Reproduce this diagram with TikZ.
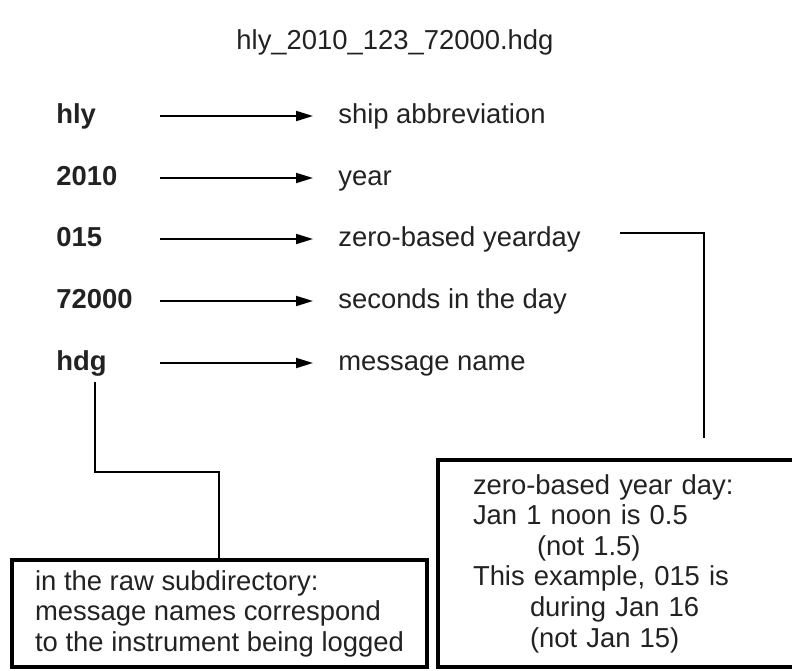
\documentclass[tikz,border=0pt]{standalone}
\usepackage{fontspec}
\setmainfont{Liberation Sans}
\usepackage{tikz}
\usetikzlibrary{arrows.meta, positioning}
\definecolor{inkgray}{RGB}{34,34,34}

\begin{document}
\begin{tikzpicture}[
    field/.style={anchor=base west, inner xsep=0pt, font=\fontsize{15.6}{17.6}\selectfont\bfseries, text=inkgray},
    meaning/.style={anchor=base west, inner xsep=0pt, font=\fontsize{15.6}{17.6}\selectfont, text=inkgray},
    note/.style={draw, line width=2.6pt, inner ysep=0pt, align=left, font=\fontsize{15.6}{17.4}\selectfont, text=inkgray},
    arr/.style={-{Triangle[length=3.4mm, width=2mm]}, line width=1.1pt, shorten >=0.5cm},
    wire/.style={line width=1.1pt}
]
\useasboundingbox (0,0) rectangle (15.84,-13.42);
\clip (0,0) rectangle (15.84,-13.42);

\node[font=\fontsize{15.6}{17.6}\selectfont, text=inkgray] (title) at (7.9,-0.84) {hly\_2010\_123\_72000.hdg};

% name parts
\node[field] (hly) at (1.12,-2.46) {hly};
\node[field] (year) at (1.12,-3.70) {2010};
\node[field] (yday) at (1.12,-4.92) {015};
\node[field] (secs) at (1.12,-6.16) {72000};
\node[field] (msg) at (1.12,-7.40) {hdg};

% what they mean
\node[meaning] (dhly) at (6.76,-2.46) {ship abbreviation};
\node[meaning] (dyear) at (6.76,-3.70) {year};
\node[meaning] (dyday) at (6.76,-4.92) {zero-based yearday};
\node[meaning] (dsecs) at (6.76,-6.16) {seconds in the day};
\node[meaning] (dmsg) at (6.76,-7.40) {message name};

\coordinate (ahly) at (3.2,-2.32);
\coordinate (ayear) at (3.2,-3.56);
\coordinate (ayday) at (3.2,-4.78);
\coordinate (asecs) at (3.2,-6.02);
\coordinate (amsg) at (3.2,-7.26);

\draw[arr] (ahly) -- (ahly -| dhly.west);
\draw[arr] (ayear) -- (ayear -| dyear.west);
\draw[arr] (ayday) -- (ayday -| dyday.west);
\draw[arr] (asecs) -- (asecs -| dsecs.west);
\draw[arr] (amsg) -- (amsg -| dmsg.west);

% notes
\node[note, minimum width=8.3cm, minimum height=2.14cm] (rawnote) at (4.39,-12.27)
    {in the raw subdirectory:\\message names correspond\\to the instrument being logged};
\node[note, text width=6.04cm, inner xsep=0.7cm, minimum height=4.14cm] (ydaynote) at (12.48,-11.27)
    {zero-based year day:\\Jan 1 noon is 0.5\\\hspace*{1.28cm}(not 1.5)\\This example, 015 is\\\hspace*{1.14cm}during Jan 16\\\hspace*{1.14cm}(not Jan 15)};

\coordinate (mtail) at (1.9,-7.64);
\coordinate (mbend) at (4.38,-9.44);
\draw[wire] (mtail) |- (mbend) -- (mbend |- rawnote.north);

\coordinate (ytail) at (12.4,-4.66);
\coordinate (yend) at (14.08,-8.76);
\draw[wire] (ytail) -| (yend);
\end{tikzpicture}
\end{document}
